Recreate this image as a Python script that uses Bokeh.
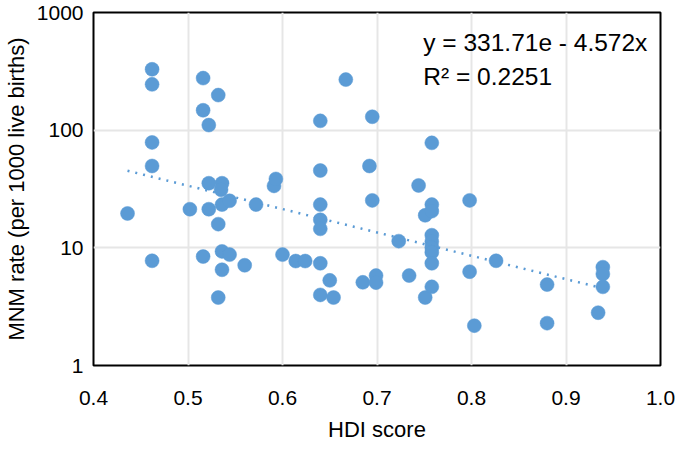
import numpy as np
from bokeh.plotting import figure
from bokeh.models import ColumnDataSource, FixedTicker, PrintfTickFormatter, Label
from bokeh.embed import file_html
from bokeh.resources import INLINE

# ---- data ----
hdi = [0.436, 0.462, 0.462, 0.462, 0.462, 0.462,
       0.502, 0.516, 0.516, 0.516, 0.522, 0.522, 0.522,
       0.532, 0.532, 0.532, 0.536, 0.535, 0.536, 0.544, 0.536, 0.544, 0.536,
       0.560, 0.572, 0.591, 0.593, 0.600, 0.614, 0.624,
       0.640, 0.640, 0.640, 0.640, 0.640, 0.640, 0.640,
       0.650, 0.654, 0.667, 0.685, 0.692, 0.695, 0.695, 0.699, 0.699,
       0.723, 0.734, 0.744, 0.751, 0.751,
       0.758, 0.758, 0.758, 0.758, 0.758, 0.758, 0.758, 0.758, 0.758,
       0.798, 0.798, 0.803, 0.826, 0.880, 0.880,
       0.934, 0.939, 0.939, 0.939]
mnm = [19.6, 329, 245, 78.7, 49.6, 7.76,
       21.3, 277, 147.6, 8.43, 110.5, 35.4, 21.3,
       198.7, 15.9, 3.78, 35.4, 31.2, 23.3, 25.1, 9.33, 8.76, 6.51,
       7.11, 23.3, 33.6, 38.5, 8.76, 7.72, 7.72,
       120, 45.4, 23.3, 17.3, 14.5, 7.39, 3.98,
       5.29, 3.78, 269, 5.09, 49.6, 130, 25.3, 5.81, 5.06,
       11.4, 5.81, 33.9, 18.9, 3.78,
       78.0, 23.3, 20.5, 12.8, 11.3, 10.06, 9.15, 7.39, 4.66,
       25.3, 6.27, 2.18, 7.76, 4.87, 2.29,
       2.81, 6.85, 6.0, 4.66]

x_ticks = [0.4, 0.5, 0.6, 0.7, 0.8, 0.9, 1.0]
y_ticks = [1, 10, 100, 1000]

# exponential trendline reported on the chart: y = A * exp(B * x)
fit_a = 331.71
fit_b = -4.572
eq_text = "y = 331.71e - 4.572x"
r2_text = "R\u00b2 = 0.2251"
eq_pos = (0.749, 560)
r2_pos = (0.749, 285)

BLUE = "#5B9BD5"
FONT = "Liberation Sans"

p = figure(width=677, height=449, y_axis_type="log",
           x_range=(0.4, 1.0), y_range=(1, 1000),
           output_backend="svg", toolbar_location=None,
           min_border_left=91, min_border_right=17,
           min_border_top=12, min_border_bottom=84,
           x_axis_label="HDI score",
           y_axis_label="MNM rate (per 1000 live births)")

p.outline_line_color = "black"
p.outline_line_width = 2

for ax in (p.xaxis[0], p.yaxis[0]):
    ax.axis_line_color = None
    ax.major_tick_in = 0
    ax.major_tick_out = 0
    ax.minor_tick_in = 0
    ax.minor_tick_out = 0
    ax.major_label_text_font = FONT
    ax.major_label_text_font_size = "21px"
    ax.major_label_text_color = "black"
    ax.axis_label_text_font = FONT
    ax.axis_label_text_font_size = "22px"
    ax.axis_label_text_font_style = "normal"
    ax.axis_label_text_color = "black"

p.xaxis.ticker = FixedTicker(ticks=x_ticks)
p.xaxis.formatter = PrintfTickFormatter(format="%.1f")
p.yaxis.ticker = FixedTicker(ticks=y_ticks)
p.yaxis.formatter = PrintfTickFormatter(format="%d")
p.xaxis.major_label_standoff = 25
p.xaxis.axis_label_standoff = 9
p.yaxis.major_label_standoff = 10
p.yaxis.axis_label_standoff = 5

p.xgrid.ticker = FixedTicker(ticks=x_ticks)
p.ygrid.ticker = FixedTicker(ticks=y_ticks)
for g in (p.xgrid[0], p.ygrid[0]):
    g.grid_line_color = "#e6e6e6"
    g.grid_line_width = 2
p.ygrid.minor_grid_line_color = None

# trendline
tx = np.linspace(min(hdi), max(hdi), 60)
ty = fit_a * np.exp(fit_b * tx)
p.line(tx, ty, line_color=BLUE, line_width=2.5, line_dash="2 6")

src = ColumnDataSource(dict(x=hdi, y=mnm))
p.scatter("x", "y", source=src, size=14, fill_color=BLUE, line_color=BLUE,
          line_width=0.5)

for txt, pos in ((eq_text, eq_pos), (r2_text, r2_pos)):
    p.add_layout(Label(x=pos[0], y=pos[1], text=txt, text_font=FONT,
                       text_font_size="24.5px", text_baseline="middle",
                       text_align="left", text_color="black"))

open("out.html", "w").write(file_html(p, INLINE))
